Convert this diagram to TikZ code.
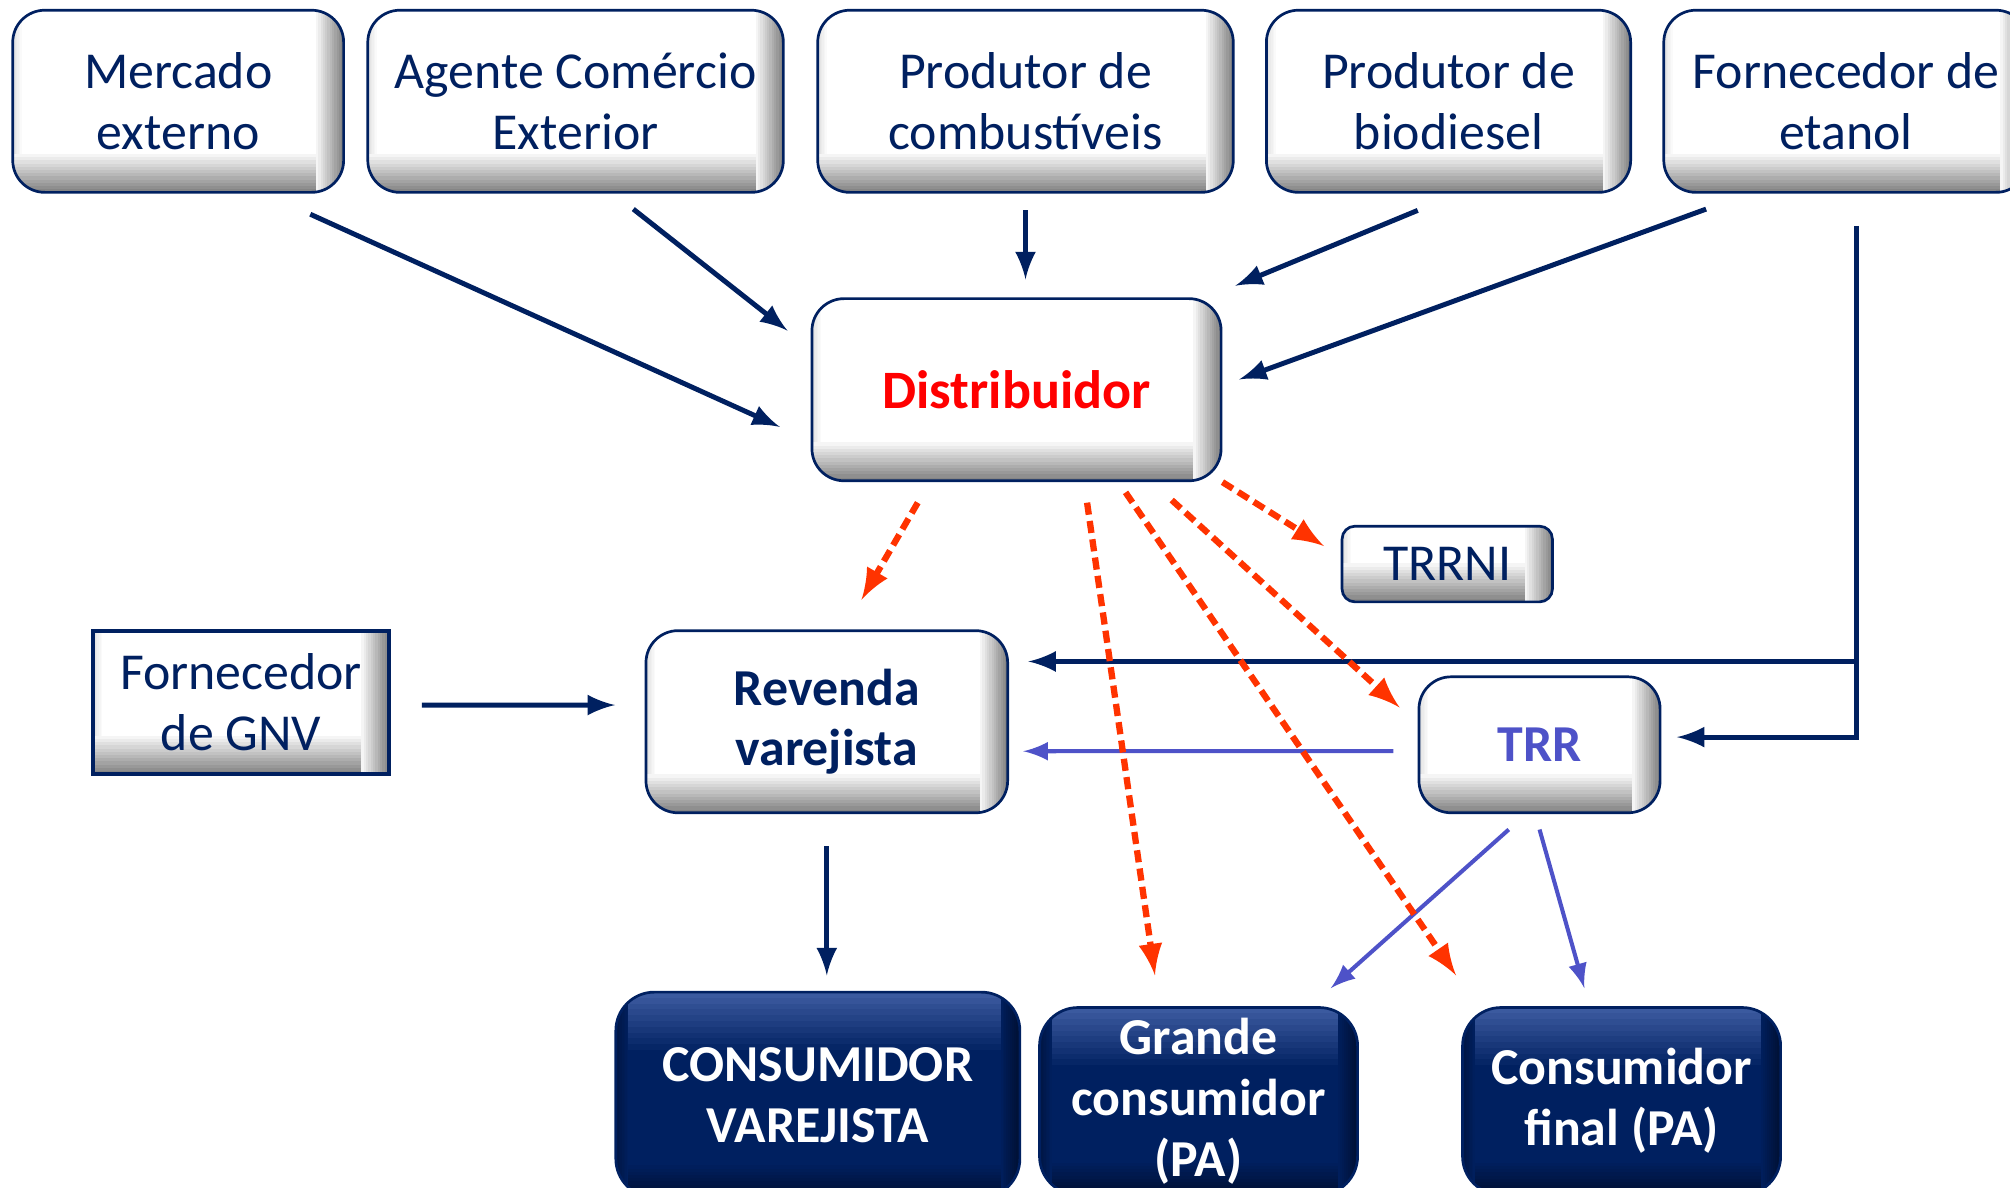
\documentclass[tikz,border=0pt]{standalone}
\usepackage{fontspec}
\setmainfont{Carlito}
\usetikzlibrary{arrows}
\definecolor{navy}{RGB}{0,32,96}
\definecolor{navylt}{RGB}{66,96,166}
\definecolor{navydk}{RGB}{0,16,52}
\definecolor{trrblue}{RGB}{78,82,200}
\definecolor{dashred}{RGB}{255,51,0}
\newcommand{\bxfont}{\fontsize{11.5}{13.5}\selectfont}
\tikzset{
  bevel/.style={path picture={
    \foreach \i [evaluate=\i as \c using int(2*\i)] in {1,...,6}
      \fill[sharp corners, black!\c] (path picture bounding box.north west) rectangle ([xshift={(7-\i)*0.012cm}]path picture bounding box.south west);
    \foreach \i [evaluate=\i as \c using int(4*\i)] in {1,...,12}
      \fill[sharp corners, black!\c] ([yshift={(13-\i)*0.025cm}]path picture bounding box.south west) rectangle (path picture bounding box.south east);
    \foreach \i [evaluate=\i as \c using int(4*\i)] in {1,...,12}
      \fill[sharp corners, black!\c] ([xshift={-(13-\i)*0.018cm}]path picture bounding box.north east) rectangle (path picture bounding box.south east);
  }},
  darkbevel/.style={path picture={
    \foreach \i [evaluate=\i as \c using int(9*\i)] in {1,...,10}
      \fill[sharp corners, navylt!\c!navy] (path picture bounding box.north west) rectangle ([yshift={-(11-\i)*0.045cm}]path picture bounding box.north east);
    \foreach \i [evaluate=\i as \c using int(10*\i)] in {1,...,10}
      \fill[sharp corners, navydk!\c!navy] ([yshift={(11-\i)*0.025cm}]path picture bounding box.south west) rectangle (path picture bounding box.south east);
    \foreach \i [evaluate=\i as \c using int(10*\i)] in {1,...,10}
      \fill[sharp corners, navydk!\c!navy] ([xshift={-(11-\i)*0.015cm}]path picture bounding box.north east) rectangle (path picture bounding box.south east);
    \foreach \i [evaluate=\i as \c using int(8*\i)] in {1,...,8}
      \fill[sharp corners, navydk!\c!navy] (path picture bounding box.north west) rectangle ([xshift={(9-\i)*0.012cm}]path picture bounding box.south west);
  }},
  box/.style={draw=navy, line width=0.6pt, fill=white, rounded corners=0.25cm, text=navy, align=center, font=\bxfont, inner sep=0pt, bevel},
  flatbox/.style={box, sharp corners, line width=0.9pt},
  darkbox/.style={draw=navy, line width=0.6pt, fill=navy, rounded corners=0.3cm, text=white, align=center, font=\bxfont\bfseries, inner sep=0pt, darkbevel},
  arr/.style={->, >=latex, navy, line width=1.1pt},
  varr/.style={->, >=latex, trrblue, line width=0.9pt},
  darr/.style={->, >=latex, dashred, line width=1.4pt, dash pattern=on 2.7pt off 1.4pt}
}
\begin{document}
\begin{tikzpicture}[x=0.01cm, y=-0.01cm]
\useasboundingbox (0,0) rectangle (1568,926);
\clip (0,0) rectangle (1568,926);
% suppliers
\node[box, minimum width=2.58cm, minimum height=1.42cm] (merc) at (139,79) {Mercado\\externo};
\node[box, minimum width=3.24cm, minimum height=1.42cm] (agen) at (449,79) {Agente Comércio\\Exterior};
\node[box, minimum width=3.24cm, minimum height=1.42cm] (pcomb) at (800,79) {Produtor de\\combustíveis};
\node[box, minimum width=2.84cm, minimum height=1.42cm] (pbio) at (1130,79) {Produtor de\\biodiesel};
\node[box, minimum width=2.84cm, minimum height=1.42cm] (fetan) at (1440,79) {Fornecedor de\\etanol};
% middle
\node[box, minimum width=3.19cm, minimum height=1.42cm, text=red, font=\fontsize{12}{14}\selectfont\bfseries] (dist) at (793,304) {Distribuidor};
\node[box, rounded corners=0.1cm, minimum width=1.64cm, minimum height=0.59cm] (trrni) at (1129,440) {TRRNI};
\node[flatbox, minimum width=2.31cm, minimum height=1.12cm] (gnv) at (188,548) {Fornecedor\\de GNV};
\node[box, minimum width=2.82cm, minimum height=1.42cm, font=\bxfont\bfseries] (rev) at (645,563) {Revenda\\varejista};
\node[box, minimum width=1.88cm, minimum height=1.06cm, text=trrblue, font=\bxfont\bfseries] (trr) at (1201,581) {TRR};
% consumers
\node[darkbox, minimum width=3.15cm, minimum height=1.6cm] (cvar) at (638,854) {CONSUMIDOR\\VAREJISTA};
\node[darkbox, minimum width=2.48cm, minimum height=1.46cm] (gcons) at (935,859) {Grande\\consumidor\\(PA)};
\node[darkbox, minimum width=2.48cm, minimum height=1.46cm] (cfin) at (1265,859) {Consumidor\\final (PA)};

\draw[arr] ([xshift=1.03cm,yshift=-0.16cm]merc.south) -- ([xshift=-0.24cm,yshift=-0.29cm]dist.west);
\draw[arr] ([xshift=0.45cm,yshift=-0.12cm]agen.south) -- ([xshift=-0.18cm,yshift=-0.26cm]dist.north west);
\draw[arr] ([yshift=-0.13cm]pcomb.south) -- ([yshift=0.14cm]pcomb.south |- dist.north);
\draw[arr] ([xshift=-0.24cm,yshift=-0.13cm]pbio.south) -- ([xshift=0.10cm,yshift=0.09cm]dist.north east);
\draw[arr] ([xshift=-1.09cm,yshift=-0.12cm]fetan.south) -- ([xshift=0.13cm,yshift=0.08cm]dist.east);
\draw[arr] ([xshift=0.08cm,yshift=-0.25cm]fetan.south) |- ([xshift=0.12cm,yshift=0.06cm]trr.east);
\coordinate (jct) at (1448,516);
\draw[arr] (jct) -- ([xshift=0.15cm]jct -| rev.east);
\draw[arr] ([xshift=0.24cm,yshift=-0.02cm]gnv.east) -- ([xshift=-0.23cm,yshift=0.13cm]rev.west);
\draw[arr] ([yshift=-0.25cm]rev.south) -- ([yshift=0.12cm]rev.south |- cvar.north);

\draw[varr] ([xshift=-0.19cm,yshift=-0.05cm]trr.west) -- ([xshift=0.11cm,yshift=-0.23cm]rev.east);
\draw[varr] ([xshift=-0.24cm,yshift=-0.12cm]trr.south) -- ([xshift=-0.22cm,yshift=0.14cm]gcons.north east);
\draw[varr] ([yshift=-0.12cm]trr.south) -- ([xshift=-0.29cm,yshift=0.14cm]cfin.north);

\draw[darr] ([xshift=-0.77cm,yshift=-0.16cm]dist.south) -- ([xshift=0.27cm,yshift=0.23cm]rev.north);
\draw[darr] ([xshift=0.55cm,yshift=-0.16cm]dist.south) -- ([xshift=-0.34cm,yshift=0.24cm]gcons.north);
\draw[darr] ([xshift=0.85cm,yshift=-0.08cm]dist.south) -- ([xshift=-0.04cm,yshift=0.24cm]cfin.north west);
\draw[darr] ([xshift=1.21cm,yshift=-0.14cm]dist.south) -- ([xshift=-0.14cm,yshift=-0.25cm]trr.north west);
\draw[darr] (dist.south east) -- ([xshift=-0.13cm,yshift=0.14cm]trrni.west);
\end{tikzpicture}
\end{document}
